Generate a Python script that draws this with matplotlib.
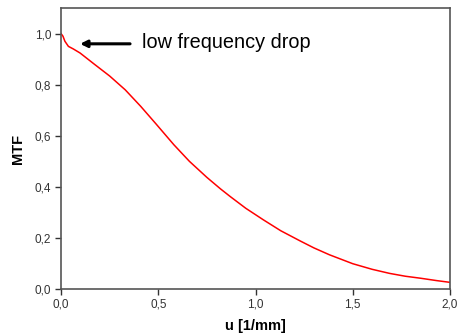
import numpy as np
import matplotlib
matplotlib.use("Agg")
import matplotlib.pyplot as plt
from matplotlib.ticker import FuncFormatter

plt.rcParams['font.family'] = ['Liberation Sans', 'DejaVu Sans']

# MTF curve
freq = [0.0, 0.01, 0.02, 0.038, 0.063, 0.098, 0.17, 0.25, 0.33, 0.41, 0.49,
        0.58, 0.66, 0.75, 0.82, 0.87, 0.95, 1.04, 1.13, 1.23, 1.30, 1.38,
        1.50, 1.60, 1.69, 1.77, 1.85, 1.93, 2.0]
mtf = [1.0, 0.99, 0.97, 0.95, 0.94, 0.924, 0.881, 0.834, 0.78, 0.715, 0.645,
       0.565, 0.50, 0.437, 0.392, 0.362, 0.316, 0.271, 0.228, 0.188, 0.161, 0.134,
       0.099, 0.077, 0.061, 0.05, 0.042, 0.033, 0.026]

x_ticks = [0.0, 0.5, 1.0, 1.5, 2.0]
y_ticks = [0.0, 0.2, 0.4, 0.6, 0.8, 1.0]

fig = plt.figure(figsize=(4.57, 3.36), dpi=100)
ax = fig.add_axes([0.1335, 0.1399, 0.8512, 0.8361])

ax.plot(freq, mtf, color='#ff0000', linewidth=1.1)

ax.set_xlim(0, 2.0)
ax.set_ylim(0, 1.1)
ax.set_xticks(x_ticks)
ax.set_yticks(y_ticks)
comma = FuncFormatter(lambda v, p: f"{v:.1f}".replace('.', ','))
ax.xaxis.set_major_formatter(comma)
ax.yaxis.set_major_formatter(comma)
ax.tick_params(direction='out', length=4, width=1, labelsize=8.5, colors='#333333', pad=3)

for s in ax.spines.values():
    s.set_color('#555555')
    s.set_linewidth(1.2)

ax.set_xlabel("u [1/mm]", fontsize=10.5, fontweight='bold', labelpad=6)
ax.set_ylabel("MTF", fontsize=10.5, fontweight='bold', labelpad=7)

ax.annotate("", xy=(0.098, 0.96), xytext=(0.355, 0.96),
            arrowprops=dict(arrowstyle='-|>', color='black', lw=2.2,
                            mutation_scale=10, shrinkA=0, shrinkB=0))
ax.text(0.415, 0.965, "low frequency drop", fontsize=14.3, va='center', ha='left')

fig.savefig("out.png", dpi=100)
